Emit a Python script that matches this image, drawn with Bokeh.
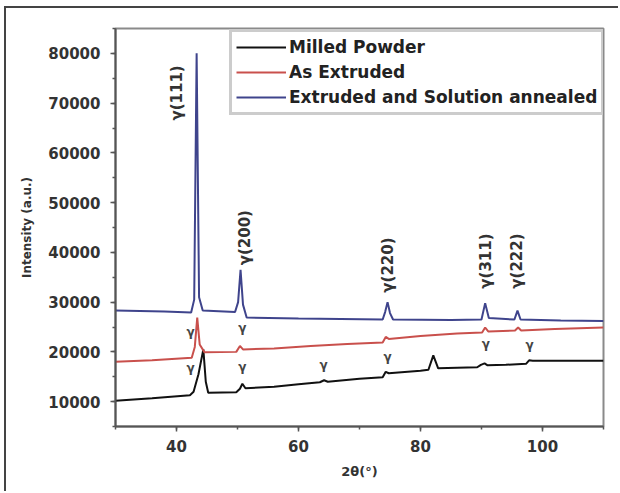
import math
from bokeh.plotting import figure
from bokeh.models import Legend, LegendItem, Range1d, SingleIntervalTicker, BasicTickFormatter
from bokeh.core.properties import value
from bokeh.embed import file_html
from bokeh.resources import INLINE

# ---- data (2theta in degrees, intensity in a.u.) ----
milled_2theta = [30, 36, 42.2, 42.8, 43.6, 44.4, 44.8, 45.2, 49.8, 50.4, 50.8, 51.3, 56, 60,
                 63.5, 64.2, 64.8, 70, 73.8, 74.3, 74.8, 80, 81.3, 82.1, 82.9, 86, 89.3, 89.9,
                 90.5, 91.0, 94, 97.3, 97.8, 98.4, 104, 110]
milled_int = [10200, 10700, 11300, 12000, 15500, 20500, 14000, 11800, 11900, 12600, 13600, 12700,
              13000, 13500, 13900, 14300, 14000, 14600, 14900, 16000, 15700, 16200, 16400, 19300,
              16700, 16800, 16900, 17400, 17700, 17300, 17400, 17600, 18300, 18200, 18200, 18200]

extruded_2theta = [30, 36, 42.5, 43.0, 43.4, 43.8, 44.6, 49.8, 50.4, 50.9, 56, 62, 68, 73.8, 74.3,
                   74.8, 80, 86, 90.1, 90.6, 91.1, 95.5, 96.0, 96.5, 102, 110]
extruded_int = [18000, 18300, 18800, 21000, 26900, 21500, 19900, 20000, 21200, 20500, 20700, 21200,
                21600, 21900, 23000, 22600, 23200, 23700, 23900, 24900, 24100, 24300, 24900, 24300,
                24600, 24900]

annealed_2theta = [30, 38, 42.4, 42.9, 43.3, 43.7, 44.3, 49.6, 50.1, 50.5, 50.9, 51.5, 60, 73.8,
                   74.2, 74.6, 75.0, 75.5, 85, 90.0, 90.6, 91.2, 95.4, 95.9, 96.4, 103, 110]
annealed_int = [28300, 28100, 27900, 30500, 80000, 31000, 28300, 28000, 30000, 36500, 29500, 26900,
                26700, 26500, 28000, 30000, 27800, 26500, 26400, 26500, 29800, 26800, 26500, 28300,
                26500, 26300, 26200]

series_names = ["Milled Powder", "As Extruded", "Extruded and Solution annealed"]

# peak labels of the annealed pattern
hkl_labels = ["γ(111)", "γ(200)", "γ(220)", "γ(311)", "γ(222)"]
hkl_2theta = [40.0, 51.3, 74.6, 90.7, 95.9]
hkl_label_int = [66500, 37400, 31900, 32700, 32700]

# small gamma marks above the peaks of the other two patterns
mark_2theta = [42.3, 50.8, 64.1, 74.6, 90.7, 97.9, 42.3, 50.8]
mark_int = [16700, 16900, 17300, 18900, 21600, 21300, 23900, 24700]

FONT = "DejaVu Sans"

p = figure(width=614, height=485, output_backend="svg", toolbar_location=None,
           x_range=Range1d(30, 110), y_range=Range1d(5000, 85000),
           min_border_left=109, min_border_top=20, min_border_right=17, min_border_bottom=67)
p.margin = (6, 0, 0, 4)
p.styles = {"border-top": "2px solid #444444", "border-left": "2px solid #444444"}
p.background_fill_color = "white"
p.border_fill_color = "white"
p.outline_line_color = "#8a8a8a"
p.outline_line_width = 2
p.xgrid.visible = False
p.ygrid.visible = False

p.xaxis.ticker = SingleIntervalTicker(interval=20, num_minor_ticks=2)
p.yaxis.ticker = SingleIntervalTicker(interval=10000, num_minor_ticks=2)
p.yaxis.formatter = BasicTickFormatter(use_scientific=False)

for ax in (p.xaxis[0], p.yaxis[0]):
    ax.axis_line_color = "#555555"
    ax.axis_line_width = 2
    ax.major_tick_line_color = "#555555"
    ax.minor_tick_line_color = "#555555"
    ax.major_tick_line_width = 1.5
    ax.minor_tick_line_width = 1.5
    ax.major_tick_in = 0
    ax.major_tick_out = 5
    ax.minor_tick_in = 0
    ax.minor_tick_out = 3
    ax.major_label_text_font = FONT
    ax.major_label_text_font_style = "bold"
    ax.major_label_text_font_size = "15px"
    ax.major_label_text_color = "#333333"
    ax.axis_label_text_font = FONT
    ax.axis_label_text_font_style = "bold"
    ax.axis_label_text_color = "#333333"

p.xaxis.major_label_standoff = 8
p.yaxis.major_label_standoff = 10
p.xaxis.axis_label = "2θ(°)"
p.yaxis.axis_label = "Intensity (a.u.)"
p.xaxis.axis_label_text_font_size = "13px"
p.yaxis.axis_label_text_font_size = "12px"
p.xaxis.axis_label_standoff = 9
p.yaxis.axis_label_standoff = 11

r_milled = p.line(milled_2theta, milled_int, line_color="#111111", line_width=2)
r_extr = p.line(extruded_2theta, extruded_int, line_color="#c9504c", line_width=2)
r_ann = p.line(annealed_2theta, annealed_int, line_color="#3f448c", line_width=2)

p.text(x=hkl_2theta, y=hkl_label_int, text=hkl_labels, angle=math.pi / 2,
       text_align="left", text_baseline="middle", text_font=value(FONT),
       text_font_style="bold", text_font_size="15px", text_color="#333333")

p.text(x=mark_2theta, y=mark_int, text=["γ"] * len(mark_2theta),
       text_align="center", text_baseline="middle", text_font=value(FONT),
       text_font_style="bold", text_font_size="12px", text_color="#444444")

legend = Legend(items=[LegendItem(label=series_names[0], renderers=[r_milled]),
                       LegendItem(label=series_names[1], renderers=[r_extr]),
                       LegendItem(label=series_names[2], renderers=[r_ann])],
                location=(114, 311))
legend.label_text_font = FONT
legend.label_text_font_style = "bold"
legend.label_text_font_size = "17px"
legend.label_text_color = "#222222"
legend.glyph_width = 50
legend.glyph_height = 22
legend.label_height = 22
legend.label_standoff = 3
legend.spacing = 3
legend.padding = 4
legend.margin = 0
legend.border_line_color = "#999999"
legend.border_line_width = 3
legend.background_fill_color = "white"
legend.background_fill_alpha = 1
p.add_layout(legend, "center")

open("out.html", "w").write(file_html(p, INLINE))
